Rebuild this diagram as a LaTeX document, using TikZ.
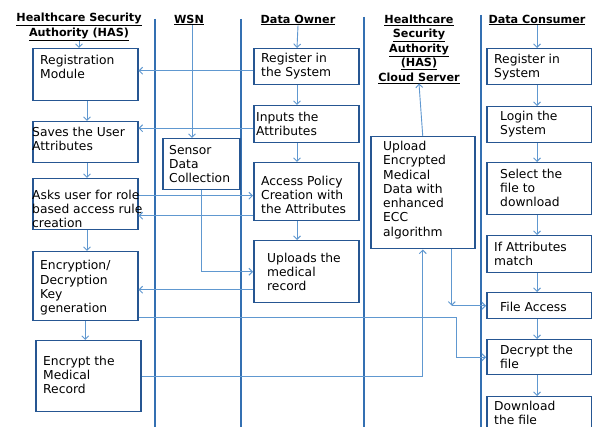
\documentclass[tikz,border=0pt]{standalone}
\usepackage{fontspec}
\setmainfont{DejaVu Sans}
\usetikzlibrary{arrows.meta}
\definecolor{boxblue}{RGB}{38,86,146}
\definecolor{laneblue}{RGB}{52,112,178}
\definecolor{flowblue}{RGB}{96,152,208}
\tikzset{
	stepbox/.style={draw=boxblue,line width=1.5pt,anchor=north west,inner sep=0pt,minimum width=105pt},
	steptext/.style={anchor=west,align=left,inner sep=0pt,font=\fontsize{12.3}{14.3}\selectfont},
	lanehead/.style={align=center,inner sep=0pt,font=\bfseries\fontsize{11.2}{14.5}\selectfont},
	lane/.style={draw=laneblue,line width=1.7pt},
	flow/.style={draw=flowblue,line width=.9pt,-{Straight Barb[length=3.5pt,width=7pt]}}
}
\begin{document}
\begin{tikzpicture}[x=1pt,y=-1pt]
	\fill[white] (0,0) rectangle (592,427);
	\useasboundingbox (0,0) rectangle (592,427);

	\draw[lane] (155,19) -- (155,430);
	\draw[lane] (241,19) -- (241,430);
	\draw[lane] (364,17) -- (364,430);
	\draw[lane] (481,15) -- (481,430);

	\node[lanehead] (hashd) at (79,27) {\underline{Healthcare Security}\\\underline{Authority (HAS)}};
	\node[lanehead] (wsnhd) at (189,20) {\underline{WSN}};
	\node[lanehead] (dohd) at (298,20) {\underline{Data Owner}};
	\node[lanehead] (cloudhd) at (419,49) {\underline{Healthcare}\\\underline{Security}\\\underline{Authority}\\\underline{(HAS)}\\\underline{Cloud Server}};
	\node[lanehead] (dchd) at (537,20) {\underline{Data Consumer}};

	\coordinate (hasx) at (87,0);
	\coordinate (wsnx) at (192,0);
	\coordinate (dox) at (297,0);
	\coordinate (dcx) at (537,0);

	\node[stepbox,minimum height=52pt] (reg) at (32,48) {};
	\node[stepbox,minimum height=41pt] (saves) at (32,121) {};
	\node[stepbox,minimum height=51pt] (asks) at (32,178) {};
	\node[stepbox,minimum height=69pt] (enc) at (32,251) {};
	\node[stepbox,minimum height=71pt] (encrec) at (35,340) {};
	\node[steptext] (regtxt) at (40,67) {Registration\\Module};
	\node[steptext] (savestxt) at (32,139) {Saves the User\\Attributes};
	\node[steptext] (askstxt) at (32,209) {Asks user for role\\based access rule\\creation};
	\node[steptext] (enctxt) at (40,288) {Encryption/\\Decryption\\Key\\generation};
	\node[steptext] (encrectxt) at (43,375) {Encrypt the\\Medical\\Record};

	\node[stepbox,minimum width=77pt,minimum height=51pt] (sensor) at (162,138) {};
	\node[steptext] (sensortxt) at (169,164) {Sensor\\Data\\Collection};

	\node[stepbox,minimum height=36pt] (dreg) at (253,48) {};
	\node[stepbox,minimum height=37pt] (inputs) at (253,105) {};
	\node[stepbox,minimum height=58pt] (policy) at (253,162) {};
	\node[stepbox,minimum height=62pt] (upl) at (253,240) {};
	\node[steptext] (dregtxt) at (261,66) {Register in\\the System};
	\node[steptext] (inputstxt) at (256,124) {Inputs the\\Attributes};
	\node[steptext] (policytxt) at (261,195) {Access Policy\\Creation with\\the Attributes};
	\node[steptext] (upltxt) at (267,272) {Uploads the\\medical\\record};

	\node[stepbox,minimum width=104pt,minimum height=112pt] (cup) at (370,136) {};
	\node[steptext] (cuptxt) at (383,190) {Upload\\Encrypted\\Medical\\Data with\\enhanced\\ECC\\algorithm};

	\node[stepbox,minimum height=36pt] (creg) at (486,48) {};
	\node[stepbox,minimum height=36pt] (login) at (486,106) {};
	\node[stepbox,minimum height=52pt] (sel) at (486,162) {};
	\node[stepbox,minimum height=37pt] (attr) at (486,235) {};
	\node[stepbox,minimum height=26pt] (fa) at (486,292) {};
	\node[stepbox,minimum height=35pt] (dec) at (486,339) {};
	\node[stepbox,minimum height=40pt] (dl) at (486,396) {};
	\node[steptext] (cregtxt) at (494,67) {Register in\\System};
	\node[steptext] (logintxt) at (500,124) {Login the\\System};
	\node[steptext] (seltxt) at (500,188) {Select the\\file to\\download};
	\node[steptext] (attrtxt) at (494,254) {If Attributes\\match};
	\node[steptext] (fatxt) at (500,307) {File Access};
	\node[steptext] (dectxt) at (500,357) {Decrypt the\\file};
	\node[steptext] (dltxt) at (494,413) {Download\\the file};

	\draw[flow] (hashd.south) -- (hashd.south |- reg.north);
	\draw[flow] (reg.south -| hasx) -- (saves.north -| hasx);
	\draw[flow] (saves.south -| hasx) -- (asks.north -| hasx);
	\draw[flow] (asks.south -| hasx) -- (enc.north -| hasx);
	\draw[flow] (enc.south) -- (enc.south |- encrec.north);

	\draw[flow] (wsnhd.south -| wsnx) -- (sensor.north -| wsnx);
	\draw[flow] (sensor.south) |- (upl.west);

	\draw[flow] (dohd.south) -- (dreg.north -| dox);
	\draw[flow] (dreg.south -| dox) -- (inputs.north -| dox);
	\draw[flow] (inputs.south -| dox) -- (policy.north -| dox);
	\draw[flow] (policy.south -| dox) -- (upl.north -| dox);

	\draw[flow] ([yshift=-4pt]dreg.west) -- ([yshift=-4pt]dreg.west -| reg.east);
	\draw[flow] ([yshift=-4pt]inputs.west) -- ([yshift=-4pt]inputs.west -| saves.east);
	\draw[flow] ([yshift=8.5pt]asks.east) -- ([yshift=8.5pt]asks.east -| policy.west);
	\draw[flow] ([yshift=-11.5pt]asks.east -| policy.west) -- ([yshift=-11.5pt]asks.east);
	\draw[flow] ([yshift=-18pt]upl.west) -- ([yshift=-18pt]upl.west -| enc.east);
	\draw[flow] ([yshift=-31.5pt]enc.east) -| ([xshift=-30pt]dec.west) -- (dec.west);
	\draw[flow] (encrec.east) -| (cup.south);

	\draw[flow] (cup.north) -- (cloudhd.south);
	\draw[flow] ([xshift=29pt]cup.south) -- ([xshift=29pt]cup.south |- fa.west);
	\draw[flow] ([xshift=29pt]cup.south |- fa.west) -- (fa.west);

	\draw[flow] (dchd.south -| dcx) -- (creg.north -| dcx);
	\draw[flow] (creg.south -| dcx) -- (login.north -| dcx);
	\draw[flow] (login.south -| dcx) -- (sel.north -| dcx);
	\draw[flow] (sel.south -| dcx) -- (attr.north -| dcx);
	\draw[flow] (attr.south -| dcx) -- (fa.north -| dcx);
	\draw[flow] (fa.south -| dcx) -- (dec.north -| dcx);
	\draw[flow] (dec.south -| dcx) -- (dl.north -| dcx);
\end{tikzpicture}
\end{document}
